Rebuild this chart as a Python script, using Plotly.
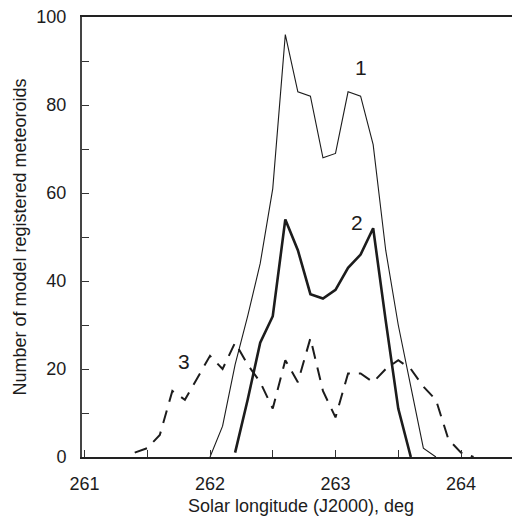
import plotly.graph_objects as go

# Solar longitude (J2000), deg
x1 = [262.0, 262.1, 262.2, 262.3, 262.4, 262.5, 262.6, 262.7, 262.8, 262.9,
      263.0, 263.1, 263.2, 263.3, 263.4, 263.5, 263.6, 263.7, 263.8]
y1 = [0, 7, 21, 32, 44, 61, 96, 83, 82, 68, 69, 83, 82, 71, 47, 30, 16, 2, 0]

x2 = [262.2, 262.3, 262.4, 262.5, 262.6, 262.7, 262.8, 262.9, 263.0, 263.1,
      263.2, 263.3, 263.4, 263.5, 263.6]
y2 = [1, 13, 26, 32, 54, 47, 37, 36, 38, 43, 46, 52, 31, 11, 0]

x3 = [261.4, 261.5, 261.6, 261.7, 261.8, 261.9, 262.0, 262.1, 262.2, 262.3,
      262.4, 262.5, 262.6, 262.7, 262.8, 262.9, 263.0, 263.1, 263.2, 263.3,
      263.4, 263.5, 263.6, 263.7, 263.8, 263.9, 264.0, 264.1]
y3 = [1, 2, 5, 15, 13, 18, 23, 20, 26, 21, 17, 11, 22, 17, 27, 15, 9, 19, 19, 17,
      20, 22, 20, 16, 13, 4, 1, 0]

curve_labels = ["1", "2", "3"]
label_x = [263.20, 263.17, 261.79]
label_y = [88.5, 53.2, 21.6]

x_ticks = [261, 262, 263, 264]
y_ticks = [0, 20, 40, 60, 80, 100]

FONT = "Liberation Sans, Arial, sans-serif"
INK = "#1c1c1c"

fig = go.Figure()
fig.add_trace(go.Scatter(x=x1, y=y1, mode="lines",
                         line=dict(color=INK, width=1.1), showlegend=False))
fig.add_trace(go.Scatter(x=x2, y=y2, mode="lines",
                         line=dict(color=INK, width=2.6), showlegend=False))
fig.add_trace(go.Scatter(x=x3, y=y3, mode="lines",
                         line=dict(color=INK, width=2.0, dash="13px,9px"),
                         showlegend=False))

for t, lx, ly in zip(curve_labels, label_x, label_y):
    fig.add_annotation(x=lx, y=ly, text=t, showarrow=False,
                       font=dict(family=FONT, size=21, color=INK))

# the page body adds an 8px offset; compensate with a slightly smaller figure
fig.update_layout(
    width=512, height=509,
    margin=dict(l=74, r=0, t=9, b=60),
    paper_bgcolor="white", plot_bgcolor="white",
    font=dict(family=FONT, size=18, color=INK),
    xaxis=dict(range=[260.98, 264.47], tickvals=x_ticks,
               ticktext=[str(v) for v in x_ticks],
               ticks="inside", ticklen=7, tickwidth=1.2, tickcolor="#333",
               minor=dict(dtick=0.5, tick0=261, ticks="inside", ticklen=7,
                          tickwidth=1.2, tickcolor="#333"),
               showline=True, mirror=True, linecolor="#222", linewidth=1.5,
               showgrid=False, zeroline=False, ticklabelstandoff=10,
               ticklabeloverflow="allow",
               title=dict(text="Solar longitude (J2000), deg", standoff=6,
                          font=dict(size=18))),
    yaxis=dict(range=[0, 100], tickvals=y_ticks,
               ticks="inside", ticklen=7, tickwidth=1.2, tickcolor="#333",
               minor=dict(dtick=10, tick0=0, ticks="inside", ticklen=7,
                          tickwidth=1.2, tickcolor="#333"),
               showline=True, linecolor="#444", linewidth=2,
               showgrid=False, zeroline=False, ticklabelstandoff=10,
               ticklabeloverflow="allow",
               title=dict(text="Number of model registered meteoroids",
                          standoff=5, font=dict(size=18))),
)

fig.write_html("out.html")
